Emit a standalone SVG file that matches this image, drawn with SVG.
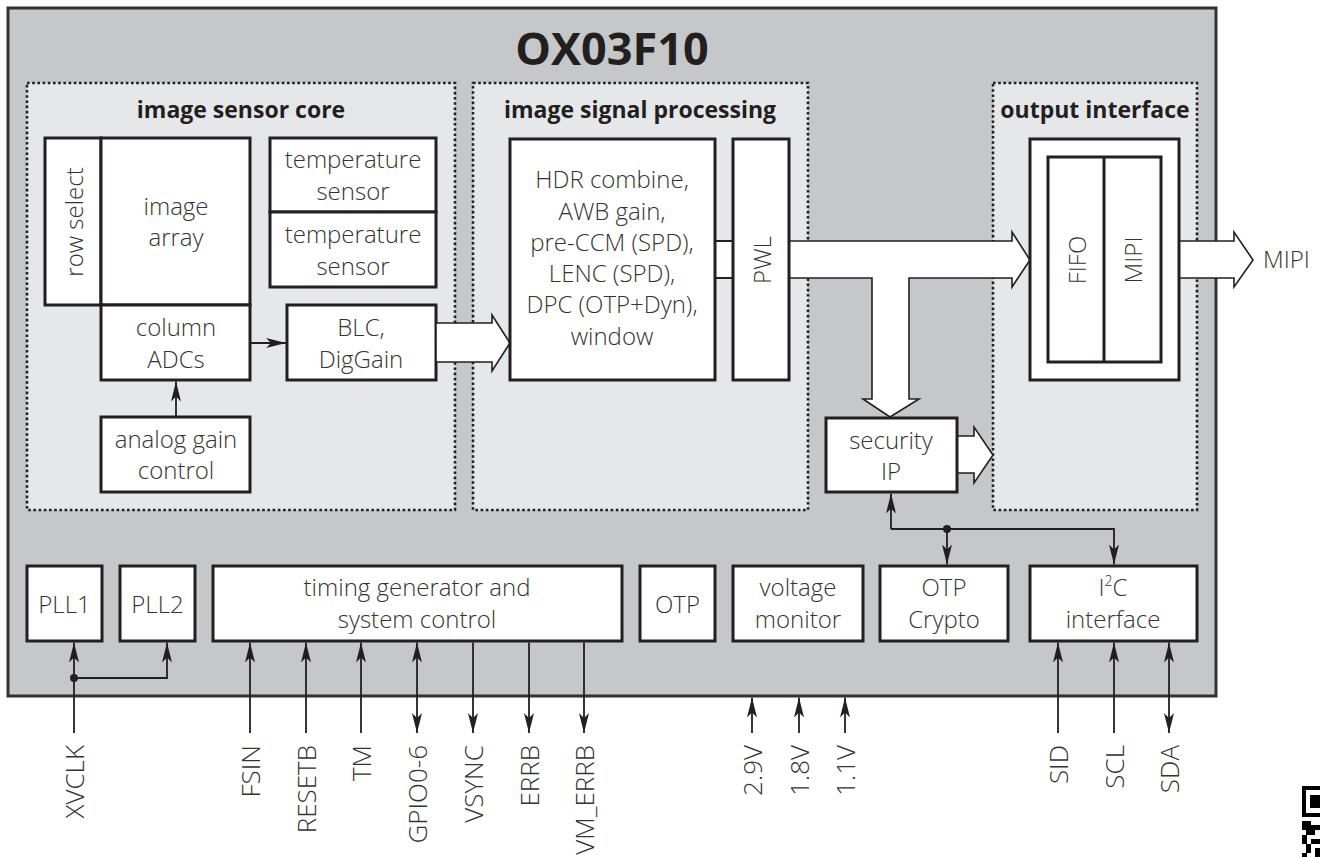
<svg xmlns="http://www.w3.org/2000/svg" width="1320" height="857" viewBox="0 0 1320 857">
<defs>
<style>
.box{fill:#fff;stroke:#231f20;stroke-width:3}
.region{fill:#e6e7e9;stroke:#231f20;stroke-width:2.6;stroke-dasharray:2.6 2.6}
.t{font-family:"Open Sans","Liberation Sans",sans-serif;font-size:24px;font-weight:300;fill:#333;text-anchor:middle}
.tb{font-family:"Open Sans","Liberation Sans",sans-serif;font-size:23px;font-weight:bold;fill:#231f20;text-anchor:middle}
.pin{font-family:"Open Sans","Liberation Sans",sans-serif;font-size:26px;font-weight:300;fill:#333;text-anchor:end;dominant-baseline:central}
.ln{fill:none;stroke:#231f20;stroke-width:1.8}
.fat{fill:#fff;stroke:#231f20;stroke-width:1.6;stroke-linejoin:miter}
</style>
<marker id="ah" viewBox="0 0 20 10" refX="20" refY="5" markerWidth="20" markerHeight="10" markerUnits="userSpaceOnUse" orient="auto-start-reverse">
<path d="M0,0 L20,5 L0,10 L5,5 Z" fill="#231f20"/>
</marker>
</defs>

<g id="chip">
<rect x="8" y="8" width="1208" height="688" fill="#c6c7c9" stroke="#333" stroke-width="3"/>
<text x="612" y="65" font-family="'Open Sans','Liberation Sans',sans-serif" font-size="45" font-weight="bold" fill="#231f20" text-anchor="middle">OX03F10</text>
</g>

<g id="image-sensor-core">
<rect class="region" x="27" y="83" width="428" height="427"/>
<text class="tb" x="241" y="118">image sensor core</text>
</g>
<g id="image-signal-processing">
<rect class="region" x="473" y="83" width="335" height="427"/>
<text class="tb" x="640" y="118">image signal processing</text>
</g>
<g id="output-interface">
<rect class="region" x="993" y="83" width="204" height="427"/>
<text class="tb" x="1095" y="118">output interface</text>
</g>

<g id="row-select">
<rect class="box" x="45" y="138" width="56" height="167"/>
<text class="t" transform="translate(73,222) rotate(-90)" dominant-baseline="central">row select</text>
</g>
<g id="image-array">
<rect class="box" x="101" y="138" width="149" height="167"/>
<text class="t" x="176" y="215">image</text>
<text class="t" x="176" y="246">array</text>
</g>
<g id="column-adcs">
<rect class="box" x="101" y="305" width="149" height="75"/>
<text class="t" x="176" y="336">column</text>
<text class="t" x="176" y="368">ADCs</text>
</g>
<g id="analog-gain-control">
<rect class="box" x="101" y="417" width="149" height="75"/>
<text class="t" x="176" y="448">analog gain</text>
<text class="t" x="176" y="479">control</text>
</g>
<g id="temperature-sensor-1">
<rect class="box" x="270" y="138" width="166" height="74"/>
<text class="t" x="353" y="168">temperature</text>
<text class="t" x="353" y="200">sensor</text>
</g>
<g id="temperature-sensor-2">
<rect class="box" x="270" y="212" width="166" height="75"/>
<text class="t" x="353" y="243">temperature</text>
<text class="t" x="353" y="275">sensor</text>
</g>
<g id="blc-diggain">
<rect class="box" x="287" y="305" width="149" height="75"/>
<text class="t" x="361" y="336">BLC,</text>
<text class="t" x="361" y="368">DigGain</text>
</g>

<g id="connectors">
<polygon class="fat" points="436,323 492,323 492,315 510,343 492,371 492,362 436,362"/>
<rect x="715" y="241" width="18" height="37" fill="#fff"/>
<path class="ln" d="M715,241 H733 M715,278 H733" stroke-width="1.6"/>
<polygon class="fat" points="789,241 1012,241 1012,232 1030,260 1012,287 1012,278 909,278 909,399 919,399 890,417 863,399 872,399 872,278 789,278"/>
<polygon class="fat" points="1179,241 1234,241 1234,232 1253,260 1234,287 1234,278 1179,278"/>
<polygon class="fat" points="957,436 974,436 974,427 993,455 974,483 974,473 957,473"/>
<path class="ln" d="M250,343 H286" marker-end="url(#ah)"/>
<path class="ln" d="M176,417 V381.5" marker-end="url(#ah)"/>
<path class="ln" d="M891,529 V493.5" marker-end="url(#ah)"/>
<path class="ln" d="M891,529 H1114 V564.5" marker-end="url(#ah)"/>
<path class="ln" d="M947,529 V564.5" marker-end="url(#ah)"/>
<circle cx="947" cy="529" r="4" fill="#231f20"/>
<path class="ln" d="M74,733 V642.5" marker-end="url(#ah)"/>
<path class="ln" d="M74,678 H167 V642.5" marker-end="url(#ah)"/>
<circle cx="74" cy="678" r="4" fill="#231f20"/>
<path class="ln" d="M250,733 V642.5" marker-end="url(#ah)"/>
<path class="ln" d="M306,733 V642.5" marker-end="url(#ah)"/>
<path class="ln" d="M361,733 V642.5" marker-end="url(#ah)"/>
<path class="ln" d="M417,733 V642.5" marker-start="url(#ah)" marker-end="url(#ah)"/>
<path class="ln" d="M473,642.5 V733" marker-end="url(#ah)"/>
<path class="ln" d="M529,642.5 V733" marker-end="url(#ah)"/>
<path class="ln" d="M584,642.5 V733" marker-end="url(#ah)"/>
<path class="ln" d="M752,733 V697.5" marker-end="url(#ah)"/>
<path class="ln" d="M799,733 V697.5" marker-end="url(#ah)"/>
<path class="ln" d="M845,733 V697.5" marker-end="url(#ah)"/>
<path class="ln" d="M1058,733 V642.5" marker-end="url(#ah)"/>
<path class="ln" d="M1114,733 V642.5" marker-end="url(#ah)"/>
<path class="ln" d="M1169,733 V642.5" marker-start="url(#ah)" marker-end="url(#ah)"/>
</g>

<g id="hdr-block">
<rect class="box" x="510" y="139" width="205" height="241"/>
<text class="t" x="612" y="188">HDR combine,</text>
<text class="t" x="612" y="220">AWB gain,</text>
<text class="t" x="612" y="251">pre-CCM (SPD),</text>
<text class="t" x="612" y="282">LENC (SPD),</text>
<text class="t" x="612" y="313">DPC (OTP+Dyn),</text>
<text class="t" x="612" y="345">window</text>
</g>
<g id="pwl">
<rect class="box" x="733" y="139" width="56" height="241"/>
<text class="t" transform="translate(761,260) rotate(-90)" dominant-baseline="central">PWL</text>
</g>
<g id="fifo-mipi">
<rect class="box" x="1030" y="139" width="149" height="241"/>
<rect class="box" x="1048" y="157" width="113" height="205"/>
<line x1="1104" y1="157" x2="1104" y2="362" stroke="#231f20" stroke-width="3"/>
<text class="t" transform="translate(1076,260) rotate(-90)" dominant-baseline="central">FIFO</text>
<text class="t" transform="translate(1132,260) rotate(-90)" dominant-baseline="central">MIPI</text>
</g>
<g id="mipi-out">
<text class="t" x="1263" y="268" style="text-anchor:start">MIPI</text>
</g>
<g id="security-ip">
<rect class="box" x="826" y="418" width="131" height="74"/>
<text class="t" x="891" y="449">security</text>
<text class="t" x="891" y="480">IP</text>
</g>

<g id="pll1">
<rect class="box" x="27" y="566" width="75" height="75"/>
<text class="t" x="64.5" y="613">PLL1</text>
</g>
<g id="pll2">
<rect class="box" x="120" y="566" width="75" height="75"/>
<text class="t" x="157.5" y="613">PLL2</text>
</g>
<g id="timing-generator">
<rect class="box" x="213" y="566" width="409" height="75"/>
<text class="t" x="417" y="596">timing generator and</text>
<text class="t" x="417" y="628">system control</text>
</g>
<g id="otp">
<rect class="box" x="640" y="566" width="75" height="75"/>
<text class="t" x="677.5" y="613">OTP</text>
</g>
<g id="voltage-monitor">
<rect class="box" x="733" y="566" width="130" height="75"/>
<text class="t" x="798" y="596">voltage</text>
<text class="t" x="798" y="628">monitor</text>
</g>
<g id="otp-crypto">
<rect class="box" x="880" y="566" width="128" height="75"/>
<text class="t" x="944" y="596">OTP</text>
<text class="t" x="944" y="628">Crypto</text>
</g>
<g id="i2c-interface">
<rect class="box" x="1030" y="566" width="167" height="75"/>
<text class="t" x="1113" y="596">I<tspan font-size="14" dy="-10">2</tspan><tspan dy="10">C</tspan></text>
<text class="t" x="1113" y="628">interface</text>
</g>

<g id="pin-labels">
<text class="pin" transform="translate(74,745) rotate(-90)">XVCLK</text>
<text class="pin" transform="translate(250,745) rotate(-90)">FSIN</text>
<text class="pin" transform="translate(306,745) rotate(-90)">RESETB</text>
<text class="pin" transform="translate(361,745) rotate(-90)">TM</text>
<text class="pin" transform="translate(417,745) rotate(-90)">GPIO0-6</text>
<text class="pin" transform="translate(473,745) rotate(-90)">VSYNC</text>
<text class="pin" transform="translate(529,745) rotate(-90)">ERRB</text>
<text class="pin" transform="translate(584,745) rotate(-90)">VM_ERRB</text>
<text class="pin" transform="translate(752,745) rotate(-90)">2.9V</text>
<text class="pin" transform="translate(799,745) rotate(-90)">1.8V</text>
<text class="pin" transform="translate(845,745) rotate(-90)">1.1V</text>
<text class="pin" transform="translate(1058,745) rotate(-90)">SID</text>
<text class="pin" transform="translate(1114,745) rotate(-90)">SCL</text>
<text class="pin" transform="translate(1169,745) rotate(-90)">SDA</text>
</g>

<g id="qr-fragment" fill="#000">
<rect x="1302" y="786" width="18" height="31"/>
<rect x="1306" y="790" width="14" height="23" fill="#fff"/>
<rect x="1310" y="795" width="10" height="13"/>
<rect x="1302" y="821" width="9" height="9"/>
<rect x="1311" y="825" width="9" height="5"/>
<rect x="1306" y="830" width="9" height="5"/>
<rect x="1302" y="835" width="5" height="9"/>
<rect x="1311" y="839" width="9" height="5"/>
<rect x="1306" y="844" width="5" height="9"/>
<rect x="1315" y="848" width="5" height="9"/>
<rect x="1302" y="853" width="5" height="4"/>
</g>
</svg>
